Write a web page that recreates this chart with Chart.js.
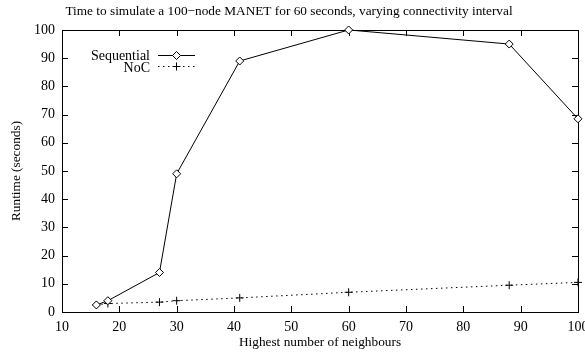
<!doctype html>
<html>
<head>
    <title>MANET runtime</title>
    <script src="https://cdn.jsdelivr.net/npm/chart.js@4/dist/chart.umd.min.js"></script>
    <style>
    html, body { margin: 0; padding: 0; overflow: hidden; background: #fff; }
    canvas { display: block; }
    </style>
</head>
<body>
    <canvas id="chart-area" width="600" height="358"></canvas>
    <script>
        // neighbours on the x axis, runtimes in seconds
        var neighbours = [16, 18, 27, 30, 41, 60, 88, 100];
        var sequential = [2.5, 4, 14, 49, 89, 100, 95, 68.5];
        var noc = [2.5, 3, 3.5, 4, 5, 7, 9.5, 10.5];
        var xTicks = [10, 20, 30, 40, 50, 60, 70, 80, 90, 100];
        var yTicks = [0, 10, 20, 30, 40, 50, 60, 70, 80, 90, 100];

        var serif = 'Liberation Serif, Times New Roman, serif';

        function toPoints(ys) {
            return neighbours.map(function(x, i) { return {x: x, y: ys[i]}; });
        }

        // gnuplot style frame: border + inward ticks on all four sides
        var framePlugin = {
            id: 'frame',
            beforeDatasetsDraw: function(chart) {
                var ctx = chart.ctx, a = chart.chartArea;
                var xs = chart.scales.x, ys = chart.scales.y;
                var len = 6;
                ctx.save();
                ctx.strokeStyle = '#000';
                ctx.lineWidth = 1;
                ctx.beginPath();
                xTicks.forEach(function(v) {
                    var px = Math.round(xs.getPixelForValue(v)) + 0.5;
                    ctx.moveTo(px, a.bottom); ctx.lineTo(px, a.bottom - len);
                    ctx.moveTo(px, a.top); ctx.lineTo(px, a.top + len);
                });
                yTicks.forEach(function(v) {
                    var py = Math.round(ys.getPixelForValue(v)) + 0.5;
                    ctx.moveTo(a.left, py); ctx.lineTo(a.left + len, py);
                    ctx.moveTo(a.right, py); ctx.lineTo(a.right - len, py);
                });
                ctx.stroke();
                ctx.strokeRect(Math.round(a.left) + 0.5, Math.round(a.top) + 0.5,
                    Math.round(a.right - a.left), Math.round(a.bottom - a.top));
                ctx.restore();
            }
        };

        // key in the top left corner, text right aligned then the sample
        var keyPlugin = {
            id: 'key',
            afterDraw: function(chart) {
                var ctx = chart.ctx;
                var rows = [
                    {label: 'Sequential', ty: 56, y: 55, dash: [], point: 'rectRot'},
                    {label: 'NoC', ty: 68, y: 66, dash: [1.5, 3.5], point: 'cross'}
                ];
                ctx.save();
                ctx.font = '14px ' + serif;
                ctx.textAlign = 'right';
                ctx.textBaseline = 'middle';
                rows.forEach(function(r) {
                    ctx.fillStyle = '#000';
                    ctx.strokeStyle = '#000';
                    ctx.lineWidth = 1;
                    ctx.fillText(r.label, 150, r.ty);
                    ctx.setLineDash(r.dash);
                    ctx.beginPath();
                    ctx.moveTo(158, r.y + 0.5);
                    ctx.lineTo(195, r.y + 0.5);
                    ctx.stroke();
                    ctx.setLineDash([]);
                    ctx.fillStyle = '#fff';
                    Chart.helpers.drawPoint(ctx, {pointStyle: r.point, radius: 4, borderWidth: 1}, 176.5, r.y + 0.5);
                });
                ctx.restore();
            }
        };

        var config = {
            type: 'line',
            data: {
                datasets: [{
                    label: 'Sequential',
                    data: toPoints(sequential),
                    clip: false,
                    borderColor: '#000',
                    borderWidth: 1,
                    pointStyle: 'rectRot',
                    pointRadius: 4,
                    pointBorderColor: '#000',
                    pointBackgroundColor: '#fff',
                    pointBorderWidth: 1
                }, {
                    label: 'NoC',
                    data: toPoints(noc),
                    clip: false,
                    borderColor: '#000',
                    borderWidth: 1,
                    borderDash: [1.5, 3.5],
                    pointStyle: 'cross',
                    pointRadius: 4,
                    pointBorderColor: '#000',
                    pointBorderWidth: 1
                }]
            },
            options: {
                responsive: false,
                animation: false,
                layout: { padding: { left: 0, right: 22, top: 0, bottom: 0 } },
                plugins: {
                    legend: { display: false },
                    tooltip: { enabled: false },
                    title: {
                        display: true,
                        text: 'Time to simulate a 100\u2212node MANET for 60 seconds, varying connectivity interval',
                        color: '#000',
                        font: { family: serif, size: 13.3, weight: 'normal' },
                        padding: { top: 4, bottom: 10 }
                    }
                },
                scales: {
                    x: {
                        type: 'linear',
                        min: 10,
                        max: 100,
                        afterBuildTicks: function(s) { s.ticks = xTicks.map(function(v) { return {value: v}; }); },
                        afterFit: function(s) { s.height = 46; },
                        grid: { display: false, drawTicks: false },
                        border: { display: false },
                        ticks: { color: '#000', padding: 7, maxRotation: 0, font: { family: serif, size: 14 } },
                        title: {
                            display: true,
                            text: 'Highest number of neighbours',
                            color: '#000',
                            font: { family: serif, size: 13.3 },
                            padding: { top: 0, bottom: 8 }
                        }
                    },
                    y: {
                        min: 0,
                        max: 100,
                        afterBuildTicks: function(s) { s.ticks = yTicks.map(function(v) { return {value: v}; }); },
                        afterFit: function(s) { s.width = 62; },
                        grid: { display: false, drawTicks: false },
                        border: { display: false },
                        ticks: { color: '#000', padding: 7, font: { family: serif, size: 14 } },
                        title: {
                            display: true,
                            text: 'Runtime (seconds)',
                            color: '#000',
                            font: { family: serif, size: 13.3 },
                            padding: { top: 9, bottom: 0 }
                        }
                    }
                }
            },
            plugins: [framePlugin, keyPlugin]
        };

        window.onload = function() {
            var ctx = document.getElementById('chart-area').getContext('2d');
            window.myChart = new Chart(ctx, config);
        };
    </script>
</body>
</html>
